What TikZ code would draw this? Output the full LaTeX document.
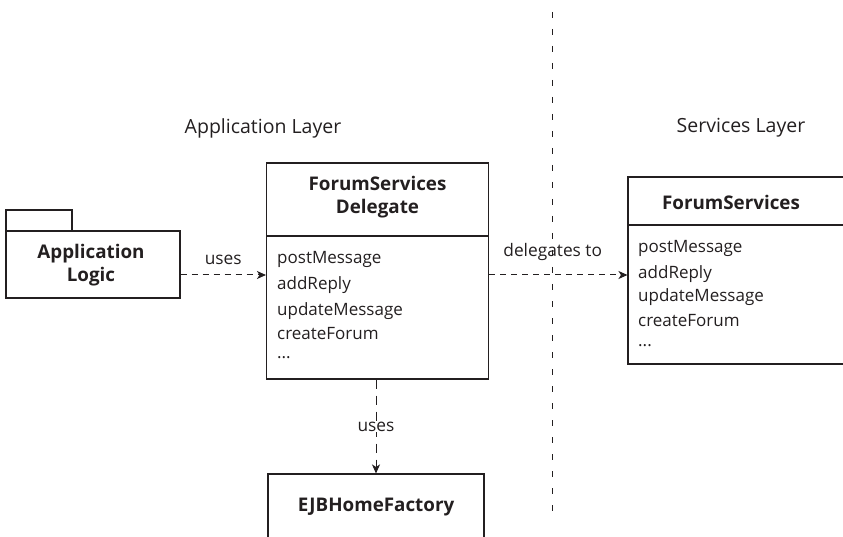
\documentclass[tikz,border=0pt]{standalone}
\usepackage{fontspec}
\setmainfont{Open Sans}
\usetikzlibrary{arrows.meta}
\definecolor{ink}{HTML}{231F20}
\begin{document}
\begin{tikzpicture}[x=1pt,y=-1pt,
  box/.style={draw=ink, line width=1.1pt, rectangle, inner sep=0pt},
  ttl/.style={font=\bfseries\fontsize{18.8}{22.5}\selectfont, align=center, text=ink, inner sep=0pt},
  meth/.style={font=\fontsize{17}{21}\selectfont, anchor=west, text=ink, inner sep=0pt},
  lbl/.style={font=\fontsize{17.3}{21}\selectfont, text=ink, inner sep=1pt},
  layer/.style={font=\fontsize{19.5}{23}\selectfont, text=ink, inner sep=0pt},
  dep/.style={draw=ink, line width=1pt, dash pattern=on 6pt off 5pt, -{Stealth[length=9pt,width=8pt,inset=2.5pt]}},
  sep/.style={draw=ink, line width=1pt, dash pattern=on 6pt off 11pt}
]
\useasboundingbox (0,0) rectangle (843,537);

% layer separator
\coordinate (st) at (552,12);
\coordinate (sb) at (552,515);
\draw[sep] (st) -- (sb);

% layer titles
\node[layer] (applayer) at (263,128) {Application Layer};
\node[layer] (svclayer) at (741,128) {Services Layer};

% package Application Logic
\node[box, minimum width=66pt, minimum height=21pt] (tab) at (39,220.5) {};
\node[box, minimum width=174pt, minimum height=67pt] (pkg) at (93,264.5) {};
\node[ttl] (pkgtxt) at (91,265) {Application\\Logic};

% ForumServicesDelegate
\node[box, minimum width=222pt, minimum height=216pt] (del) at (377.5,271) {};
\coordinate (dl) at (266.5,236);
\coordinate (dr) at (488.5,236);
\draw[draw=ink, line width=1.1pt] (dl) -- (dr);
\node[ttl] (deltitle) at (377.5,197) {ForumServices\\Delegate};
\node[meth] (d1) at (277,259) {postMessage};
\node[meth] (d2) at (277,285) {addReply};
\node[meth] (d3) at (277,311) {updateMessage};
\node[meth] (d4) at (277,334) {createForum};
\node[meth] (d5) at (277,358) {...};

% ForumServices
\node[box, minimum width=232pt, minimum height=187pt] (fs) at (744,270.5) {};
\coordinate (fl) at (628,225);
\coordinate (fr) at (860,225);
\draw[draw=ink, line width=1.1pt] (fl) -- (fr);
\node[ttl] (fstitle) at (731,202) {ForumServices};
\node[meth] (f1) at (638,248) {postMessage};
\node[meth] (f2) at (638,274) {addReply};
\node[meth] (f3) at (638,297) {updateMessage};
\node[meth] (f4) at (638,321) {createForum};
\node[meth] (f5) at (638,346) {...};

% EJBHomeFactory
\node[box, minimum width=216pt, minimum height=86pt] (ejb) at (376,517) {};
\node[ttl] (ejbtxt) at (376,507) {EJBHomeFactory};

% connectors
\draw[dep] (pkg.east |- 0,275) -- node[lbl, above=9pt] (uses1) {uses} (del.west |- 0,275);
\draw[dep] (del.east |- 0,275) -- node[lbl, pos=0.46, above=13pt] (deleg) {delegates to} (fs.west |- 0,275);
\draw[dep, dash pattern=on 9pt off 7pt] (del.south -| 376,0) -- node[lbl, fill=white, pos=0.5] (uses2) {uses} (ejb.north -| 376,0);
\end{tikzpicture}
\end{document}
